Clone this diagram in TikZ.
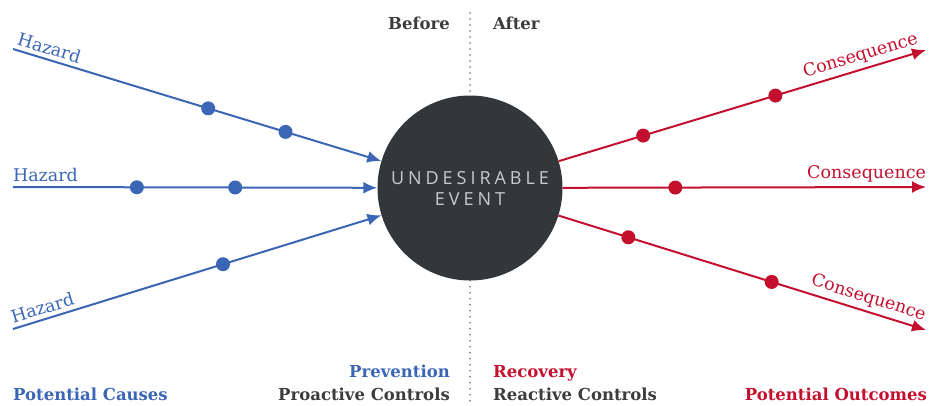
\documentclass[tikz,border=0pt]{standalone}
\usepackage{fontspec}
\setmainfont{DejaVu Serif}
\newfontfamily\eventfont[LetterSpace=22]{Open Sans}
\usetikzlibrary{arrows.meta}
\definecolor{hazblue}{HTML}{3B66B5}
\definecolor{conred}{HTML}{C4102F}
\definecolor{evgray}{HTML}{33373A}
\definecolor{evtext}{HTML}{C9CACB}
\definecolor{txtgray}{HTML}{3A3C3E}
\tikzset{cause/.style={draw=hazblue,line width=2pt,-{Latex[length=14pt,width=12pt]}}}
\tikzset{outcome/.style={draw=conred,line width=2pt,-{Latex[length=14pt,width=12pt]}}}
\tikzset{bdot/.style={circle,fill=hazblue,inner sep=0pt,minimum size=14pt}}
\tikzset{rdot/.style={circle,fill=conred,inner sep=0pt,minimum size=14pt}}
\tikzset{lbl/.style={font=\fontsize{17.5}{20}\selectfont,inner sep=1pt,outer sep=4pt}}
\tikzset{head/.style={font=\bfseries\fontsize{16.5}{20}\selectfont,inner sep=0pt}}
\tikzset{divider/.style={draw=txtgray!80,line width=1.8pt,line cap=round,dash pattern=on 0pt off 6pt}}

\begin{document}
\begin{tikzpicture}[x=1pt,y=1pt] % pixel positions, y downwards as negative
  \useasboundingbox (0,0) rectangle (931,-405);

  \node[circle,fill=evgray,minimum size=185pt,inner sep=0pt,text=evtext,align=center,
        font=\eventfont\fontsize{18}{21}\selectfont] (ev) at (470,-188) {UNDESIRABLE\\EVENT};

  \coordinate (h1) at (13,-49);
  \coordinate (h2) at (13,-187);
  \coordinate (h3) at (13,-329);
  \coordinate (c1) at (926,-50);
  \coordinate (c2) at (926,-187);
  \coordinate (c3) at (926,-330);
  \coordinate (top) at (470,-13);
  \coordinate (bot) at (470,-405);

  % before / after split
  \draw[divider] (top) -- (ev.north);
  \draw[divider] (ev.south) -- (bot);

  % causes
  \draw[cause] (h1) -- (ev)
    node[bdot,pos=0.53] (d11) {} node[bdot,pos=0.74] (d12) {}
    node[lbl,pos=0,sloped,anchor=south west,text=hazblue,xshift=-3pt] {Hazard};
  \draw[cause] (h2) -- (ev)
    node[bdot,pos=0.34] (d21) {} node[bdot,pos=0.61] (d22) {}
    node[lbl,pos=0,anchor=south west,text=hazblue,xshift=-5pt] {Hazard};
  \draw[cause] (h3) -- (ev)
    node[bdot,pos=0.57] (d31) {}
    node[lbl,pos=0,sloped,anchor=south west,text=hazblue,xshift=-3pt] {Hazard};

  % outcomes
  \draw[outcome] (ev) -- (c1)
    node[rdot,pos=0.23] (e11) {} node[rdot,pos=0.59] (e12) {}
    node[lbl,pos=1,sloped,anchor=south east,text=conred] {Consequence};
  \draw[outcome] (ev) -- (c2)
    node[rdot,pos=0.31] (e21) {}
    node[lbl,pos=1,anchor=south east,text=conred,xshift=5pt] {Consequence};
  \draw[outcome] (ev) -- (c3)
    node[rdot,pos=0.19] (e31) {} node[rdot,pos=0.58] (e32) {}
    node[lbl,pos=1,sloped,anchor=south east,text=conred] {Consequence};

  % headings
  \node[head,anchor=base east,text=txtgray] (before) at (450,-29) {Before};
  \node[head,anchor=base west,text=txtgray] (after) at (493,-29) {After};
  \node[head,anchor=base east,text=hazblue] (prev) at (450,-377) {Prevention};
  \node[head,anchor=base east,text=txtgray] (proact) at (450,-400) {Proactive Controls};
  \node[head,anchor=base west,text=conred] (recov) at (493,-377) {Recovery};
  \node[head,anchor=base west,text=txtgray] (react) at (493,-400) {Reactive Controls};
  \node[head,anchor=base west,text=hazblue] (causes) at (13,-400) {Potential Causes};
  \node[head,anchor=base east,text=conred] (outc) at (927,-400) {Potential Outcomes};
\end{tikzpicture}
\end{document}
